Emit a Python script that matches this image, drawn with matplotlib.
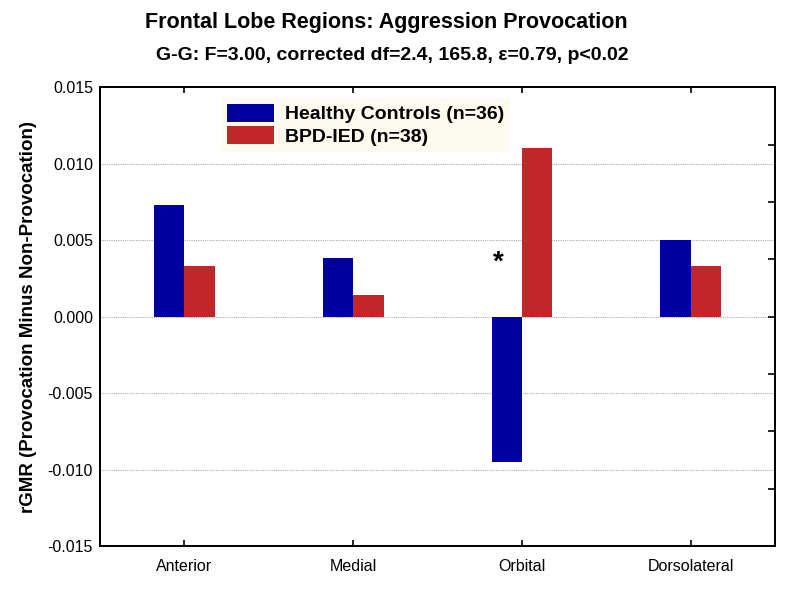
import numpy as np
import matplotlib.pyplot as plt

# Datos
regions = ["Anterior", "Medial", "Orbital", "Dorsolateral"]
healthy = [0.0073, 0.0038, -0.0095, 0.0050]
bpd_ied = [0.0033, 0.0014, 0.0110, 0.0033]
labels = ["Healthy Controls (n=36)", "BPD-IED (n=38)"]

plt.rcParams['font.family'] = ['Liberation Sans', 'DejaVu Sans']

fig = plt.figure(figsize=(7.86, 5.89), dpi=100)
ax = fig.add_axes([0.1272, 0.073, 0.859, 0.779])

x = np.arange(len(regions))
w = 0.18
ax.bar(x - w / 2, healthy, w, color="#0000A0", label=labels[0], zorder=3)
ax.bar(x + w / 2, bpd_ied, w, color="#C0262A", label=labels[1], zorder=3)

ax.set_xlim(-0.5, 3.5)
ax.set_ylim(-0.015, 0.015)
ax.set_xticks(x)
ax.set_xticklabels(regions, fontsize=11.5)
yt = np.arange(-0.015, 0.0151, 0.005)
ax.set_yticks(yt)
ax.set_yticklabels(["%.3f" % v for v in yt], fontsize=11.5)
ax.tick_params(axis='y', length=0, pad=5)
ax.tick_params(axis='x', direction='in', top=True, length=4, width=1.2, pad=9)

for v in [-0.010, -0.005, 0.0, 0.005, 0.010]:
    ax.axhline(v, color="#aaaaaa", linestyle=(0, (1, 1)), linewidth=0.8, zorder=1)

# ticks del eje derecho
ax2 = ax.twinx()
ax2.set_ylim(-0.015, 0.015)
ax2.set_yticks(np.arange(-0.015, 0.0151, 0.00375))
ax2.set_yticklabels([])
ax2.tick_params(axis='y', direction='in', length=5, width=1.2)

for a in (ax, ax2):
    for s in a.spines.values():
        s.set_linewidth(1.3)

ax.text(1.86, 0.0035, "*", fontsize=20, fontweight='bold', ha='center', va='center')

ax.set_ylabel("rGMR (Provocation Minus Non-Provocation)", fontsize=13.5,
              fontweight='bold', labelpad=8)

leg = ax.legend(loc='upper left', bbox_to_anchor=(0.181, 0.975),
                prop={'weight': 'bold', 'size': 14}, frameon=True, fancybox=False,
                handlelength=2.4, handleheight=1.1, handletextpad=0.6,
                borderpad=0.25, labelspacing=0.12, borderaxespad=0)
leg.get_frame().set_facecolor("#FDFBEF")
leg.get_frame().set_edgecolor("#FDFBEF")
leg.get_frame().set_alpha(1)

fig.text(0.492, 0.962, "Frontal Lobe Regions: Aggression Provocation",
         ha='center', va='center', fontsize=15.5, fontweight='bold')
fig.text(0.499, 0.906, "G-G: F=3.00, corrected df=2.4, 165.8, \u03b5=0.79, p<0.02",
         ha='center', va='center', fontsize=14, fontweight='bold')

fig.savefig("out.png", dpi=100)
